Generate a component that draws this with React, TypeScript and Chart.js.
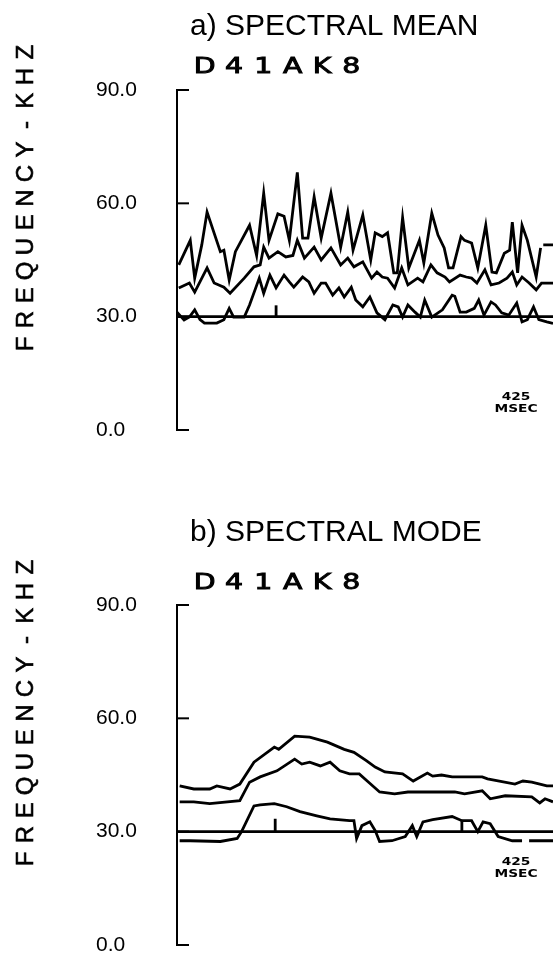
import React, { useEffect, useRef } from "react";
import { Chart, registerables } from "chart.js";

Chart.register(...registerables);

// ---------- axis / labels ----------
const TICK_VALUES = [0, 30, 60, 90];
const X_MAX_MS = 425;
const BASELINE_KHZ = 30;
const Y_TITLE = "FREQUENCY-KHZ";
const RUN_CODE = "D41AK8";
const DURATION_LABEL = ["425", "MSEC"];

// ---------- a) SPECTRAL MEAN ----------
const MEAN_UPPER_MS = [2, 15, 20, 28, 34, 49, 53, 59, 66, 82, 90, 98, 104, 114, 121, 127, 136, 142, 148, 155, 163, 174, 185, 193, 199, 210, 219, 224, 232, 238, 245, 249, 255, 262, 274, 279, 288, 295, 302, 307, 312, 321, 325, 333, 340, 349, 356, 361, 370, 376, 379, 385, 390, 396, 406, 411, 412, 414, 425];
const MEAN_UPPER_KHZ = [43.7, 50.2, 40.2, 49, 57.7, 47.2, 47.6, 39.7, 47.2, 54.2, 46.2, 62.7, 50.2, 57.2, 56.6, 50.2, 68.2, 50.8, 50.8, 61.7, 50.8, 62.7, 48.4, 57.7, 47.6, 56.9, 45, 52.2, 51.2, 52.2, 41.6, 41.6, 56.2, 42.9, 50.2, 44.2, 57.4, 51.6, 48.2, 42.9, 42.9, 51.2, 50.2, 49.5, 42.9, 54.2, 41.8, 41.6, 46.8, 47.6, 55, 41.6, 54.2, 50.2, 40.5, 48.2, null, 49, 49];

const MEAN_MID_MS = [2, 14, 20, 34, 42, 53, 60, 76, 87, 94, 98, 104, 114, 123, 131, 136, 144, 155, 163, 174, 185, 193, 200, 210, 220, 226, 232, 238, 246, 254, 261, 272, 278, 287, 294, 303, 308, 320, 327, 333, 339, 348, 355, 364, 373, 379, 384, 390, 398, 406, 412, 425];
const MEAN_MID_KHZ = [37.6, 38.9, 36.5, 42.9, 38.9, 37.8, 36.2, 40.2, 43.2, 43.7, 48.4, 45.5, 47.2, 45.8, 46.2, 50.2, 45.5, 48.4, 45, 48.2, 43.7, 45.5, 43.2, 44.5, 40.2, 41.8, 40.5, 40.2, 37.6, 42.9, 38.4, 40.2, 39.2, 43.7, 41.6, 40.5, 39.2, 41, 40.5, 40.2, 38.9, 42.4, 38.4, 38.9, 40.2, 41.8, 38.4, 40.5, 38.9, 37.1, 38.9, 38.9];

const MEAN_LOW_MS = [0, 8, 14, 20, 26, 31, 45, 53, 59, 64, 76, 82, 93, 98, 105, 112, 121, 127, 132, 142, 149, 155, 163, 168, 176, 183, 189, 197, 202, 210, 218, 226, 235, 244, 250, 255, 261, 269, 275, 280, 288, 300, 311, 314, 320, 327, 336, 341, 347, 355, 360, 367, 375, 384, 390, 396, 403, 409, 418, 425];
const MEAN_LOW_KHZ = [31.2, 29.1, 29.9, 31.8, 29.2, 28.3, 28.3, 29.2, 32.2, 29.9, 29.9, 33.1, 40.2, 36.2, 41, 37.6, 41, 39.2, 37.8, 40.5, 39.2, 36.2, 38.9, 38.9, 35.7, 37.6, 35.2, 37.8, 34.4, 32.6, 35.2, 31, 29.2, 33.1, 32.6, 29.9, 33.1, 31.2, 29.9, 34.4, 29.9, 31.8, 35.7, 35.4, 31.2, 31.2, 32.2, 34.4, 30.4, 33.9, 33.1, 31, 30.4, 33.6, 28.6, 29.2, 32.6, 29.2, 28.6, 28.2];

const MEAN_MARK_MS = [112, 112];
const MEAN_MARK_KHZ = [30, 33];

// ---------- b) SPECTRAL MODE ----------
const MODE_UPPER_MS = [3, 19, 37, 45, 60, 71, 87, 110, 115, 133, 150, 170, 189, 200, 214, 224, 235, 255, 267, 283, 289, 299, 311, 345, 351, 382, 391, 401, 418, 425];
const MODE_UPPER_KHZ = [42.1, 41.3, 41.3, 42.1, 41.3, 42.6, 48.4, 52.4, 51.8, 55.3, 55, 53.7, 51.8, 51, 48.8, 47.1, 45.8, 45.3, 43.4, 45.5, 44.7, 45, 44.5, 44.5, 44, 42.6, 43.4, 43.1, 42.1, 42.1];

const MODE_MID_MS = [3, 19, 37, 71, 82, 94, 113, 133, 141, 150, 162, 173, 184, 195, 206, 215, 229, 246, 261, 288, 314, 325, 345, 354, 371, 401, 410, 416, 425];
const MODE_MID_KHZ = [37.9, 37.9, 37.4, 38.2, 43.1, 44.5, 46.1, 49.2, 47.9, 48.4, 47.4, 48.4, 46.1, 45.3, 45.3, 43.4, 40.5, 40, 40.5, 40.5, 40.5, 40, 40.8, 38.7, 39.5, 39.2, 37.6, 38.7, 37.9];

const MODE_LOW_MS = [3, 15, 49, 68, 73, 87, 94, 110, 124, 139, 158, 173, 195, 200, 203, 209, 218, 224, 229, 243, 258, 266, 271, 278, 289, 311, 322, 333, 340, 346, 354, 363, 379, 390, 394, 398, 425];
const MODE_LOW_KHZ = [27.6, 27.6, 27.4, 28.2, 30, 36.8, 37.1, 37.4, 36.6, 35.3, 34.2, 33.4, 32.9, 32.9, 28.2, 31.6, 32.6, 30.3, 27.4, 27.6, 28.7, 31.6, 28.7, 32.6, 33.2, 34, 32.9, 32.9, 30, 32.6, 32.1, 28.7, 27.6, 27.6, null, 27.6, 27.6];

const MODE_MARK_MS = [111, 111, null, 322, 322];
const MODE_MARK_KHZ = [30, 33.4, null, 30, 33];

type Pt = { x: number; y: number | null };
function zip(xs: (number | null)[], ys: (number | null)[]): Pt[] {
  return xs.map((x, i) => ({ x: (x ?? 0) as number, y: x === null ? null : ys[i] }));
}

const PANELS = [
  {
    title: "a) SPECTRAL MEAN",
    titleY: 27,
    codeY: 68,
    durY: 397,
    series: [
      [MEAN_UPPER_MS, MEAN_UPPER_KHZ],
      [MEAN_MID_MS, MEAN_MID_KHZ],
      [MEAN_LOW_MS, MEAN_LOW_KHZ],
      [MEAN_MARK_MS, MEAN_MARK_KHZ],
    ],
  },
  {
    title: "b) SPECTRAL MODE",
    titleY: 18,
    codeY: 69,
    durY: 347,
    series: [
      [MODE_UPPER_MS, MODE_UPPER_KHZ],
      [MODE_MID_MS, MODE_MID_KHZ],
      [MODE_LOW_MS, MODE_LOW_KHZ],
      [MODE_MARK_MS, MODE_MARK_KHZ],
    ],
  },
];

const FONT = '"Liberation Sans", Arial, sans-serif';

const panelTextPlugin = {
  id: "panelText",
  afterDraw(chart: any, _args: any, opts: any) {
    const { ctx, chartArea, scales } = chart;
    const ys = scales.y;
    ctx.save();
    ctx.strokeStyle = "#000";
    ctx.fillStyle = "#000";
    ctx.lineWidth = 2;
    // inward tick marks
    for (const v of TICK_VALUES) {
      const py = ys.getPixelForValue(v);
      ctx.beginPath();
      ctx.moveTo(chartArea.left, py);
      ctx.lineTo(chartArea.left + 12, py);
      ctx.stroke();
    }
    // title
    ctx.font = `30px ${FONT}`;
    ctx.textAlign = "left";
    ctx.textBaseline = "middle";
    ctx.fillText(opts.title, 190, opts.titleY);

    // run code, plotter-like wide letters
    ctx.font = `21px "DejaVu Sans", sans-serif`;
    ctx.textAlign = "center";
    ctx.lineWidth = 0.9;
    const x0 = 190, x1 = 366;
    const cw = (x1 - x0) / RUN_CODE.length;
    for (let i = 0; i < RUN_CODE.length; i++) {
      ctx.save();
      ctx.translate(x0 + cw * (i + 0.5), opts.codeY);
      ctx.scale(1.35, 0.97);
      ctx.fillText(RUN_CODE[i], 0, 0);
      ctx.strokeText(RUN_CODE[i], 0, 0);
      ctx.restore();
    }

    // y-axis title, rotated, one cell per letter
    ctx.font = `24px ${FONT}`;
    const yTop = 40, yBot = 356;
    const cell = (yBot - yTop) / Y_TITLE.length;
    for (let i = 0; i < Y_TITLE.length; i++) {
      ctx.save();
      ctx.translate(26, yBot - cell * (i + 0.5));
      ctx.rotate(-Math.PI / 2);
      ctx.fillText(Y_TITLE[i], 0, 0);
      ctx.lineWidth = 0.6;
      ctx.strokeText(Y_TITLE[i], 0, 0);
      ctx.restore();
    }

    // duration label
    ctx.font = `bold 11px "DejaVu Sans", sans-serif`;
    for (let r = 0; r < DURATION_LABEL.length; r++) {
      ctx.save();
      ctx.translate(516, opts.durY + r * 12);
      ctx.scale(1.25, 1);
      ctx.fillText(DURATION_LABEL[r], 0, 0);
      ctx.restore();
    }
    ctx.restore();
  },
};

function Panel({ panel, top }: { panel: (typeof PANELS)[number]; top: number }) {
  const ref = useRef<HTMLCanvasElement | null>(null);
  useEffect(() => {
    if (!ref.current) return;
    const lineStyle = {
      borderColor: "#000",
      borderWidth: 2.8,
      pointRadius: 0,
      tension: 0,
      fill: false,
      spanGaps: false,
    };
    const datasets: any[] = panel.series.map(([xs, ys]) => ({
      ...lineStyle,
      data: zip(xs as any, ys as any),
    }));
    datasets.push({
      ...lineStyle,
      borderWidth: 2.8,
      data: [
        { x: 0, y: BASELINE_KHZ },
        { x: X_MAX_MS, y: BASELINE_KHZ },
      ],
    });
    const chart = new Chart(ref.current, {
      type: "line",
      data: { datasets },
      plugins: [panelTextPlugin as any],
      options: {
        animation: false,
        responsive: false,
        maintainAspectRatio: false,
        layout: { padding: { left: 96, right: 1, top: 90, bottom: 46 } },
        plugins: {
          legend: { display: false },
          tooltip: { enabled: false },
          panelText: { title: panel.title, titleY: panel.titleY, codeY: panel.codeY, durY: panel.durY },
        } as any,
        scales: {
          x: { type: "linear", min: 0, max: X_MAX_MS, display: false },
          y: {
            type: "linear",
            min: 0,
            max: 90,
            afterFit: (s: any) => {
              s.width = 81;
            },
            grid: { display: false, drawTicks: false },
            border: { display: true, color: "#000", width: 2 },
            ticks: {
              stepSize: 30,
              crossAlign: "far",
              color: "#000",
              font: { family: FONT, size: 21 },
              callback: (v: any) => Number(v).toFixed(1),
            },
          },
        },
      },
    });
    return () => chart.destroy();
  }, [panel]);
  return (
    <canvas
      ref={ref}
      width={554}
      height={476}
      style={{ position: "absolute", left: 0, top, width: 554, height: 476 }}
    />
  );
}

export default function App() {
  return (
    <div
      style={{
        position: "absolute",
        left: 0,
        top: 0,
        width: 554,
        height: 953,
        overflow: "hidden",
        background: "#fff",
      }}
    >
      <Panel panel={PANELS[0]} top={0} />
      <Panel panel={PANELS[1]} top={515} />
    </div>
  );
}
